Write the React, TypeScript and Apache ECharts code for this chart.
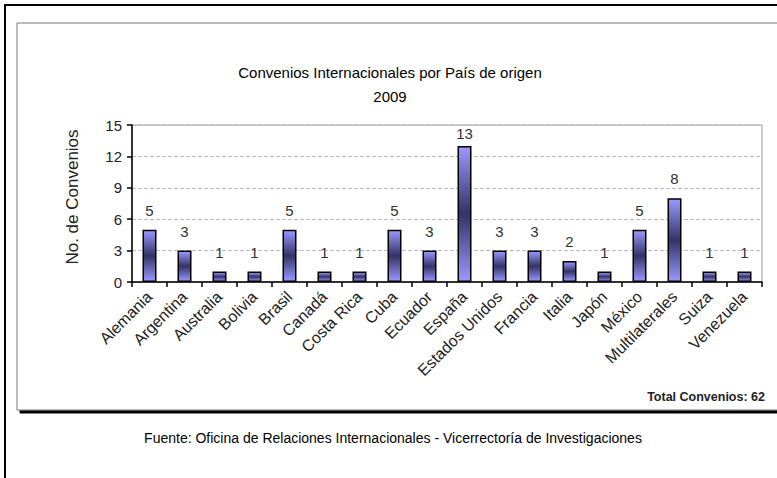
import React, { useEffect, useRef } from "react";
import * as echarts from "echarts";

const categories = [
  "Alemania", "Argentina", "Australia", "Bolivia", "Brasil", "Canadá", "Costa Rica", "Cuba", "Ecuador",
  "España", "Estados Unidos", "Francia", "Italia", "Japón", "México", "Multilaterales", "Suiza", "Venezuela",
];
const values = [5, 3, 1, 1, 5, 1, 1, 5, 3, 13, 3, 3, 2, 1, 5, 8, 1, 1];
const titleText = "Convenios Internacionales por País de origen";
const subtitleText = "2009";
const yAxisName = "No. de Convenios";
const totalText = "Total Convenios: 62";
const sourceText = "Fuente: Oficina de Relaciones Internacionales - Vicerrectoría de Investigaciones";

const SANS = "'Liberation Sans', Arial, sans-serif";
const NARROW = "'Liberation Sans Narrow', 'Liberation Sans', Arial, sans-serif";
const Y_MAX = 15;

export default function App() {
  const ref = useRef<HTMLDivElement>(null);
  useEffect(() => {
    document.body.style.margin = "0";
    const chart = echarts.init(ref.current!, undefined, { renderer: "svg" });
    chart.setOption({
      animation: false,
      backgroundColor: "#fff",
      graphic: [
        {
          type: "rect",
          z: -10,
          silent: true,
          shape: { x: 5, y: 5, width: 800, height: 500 },
          style: { fill: "#fff", stroke: "#000", lineWidth: 2 },
        },
        {
          type: "rect",
          z: -9,
          silent: true,
          shape: { x: 17, y: 23, width: 800, height: 387 },
          style: {
            fill: "#fff",
            stroke: "#777",
            lineWidth: 1,
            shadowColor: "#000",
            shadowBlur: 0,
            shadowOffsetX: 3,
            shadowOffsetY: 3,
          },
        },
        {
          type: "text",
          x: 390,
          y: 72,
          style: {
            text: titleText,
            fontFamily: SANS,
            fontSize: 15,
            textAlign: "center",
            textVerticalAlign: "middle",
            fill: "#000",
          },
        },
        {
          type: "text",
          x: 390,
          y: 96,
          style: {
            text: subtitleText,
            fontFamily: SANS,
            fontSize: 15,
            textAlign: "center",
            textVerticalAlign: "middle",
            fill: "#000",
          },
        },
        {
          type: "text",
          x: 72,
          y: 197,
          rotation: Math.PI / 2,
          style: {
            text: yAxisName,
            fontFamily: SANS,
            fontSize: 17,
            textAlign: "center",
            textVerticalAlign: "middle",
            fill: "#222",
          },
        },
        {
          type: "text",
          x: 765,
          y: 397,
          style: {
            text: totalText,
            fontFamily: NARROW,
            fontSize: 12.5,
            fontWeight: "bold",
            textAlign: "right",
            textVerticalAlign: "middle",
            fill: "#222",
          },
        },
        {
          type: "text",
          x: 393,
          y: 438,
          style: {
            text: sourceText,
            fontFamily: NARROW,
            fontSize: 14,
            textAlign: "center",
            textVerticalAlign: "middle",
            fill: "#000",
          },
        },
      ],
      grid: {
        left: 132,
        right: 15,
        top: 125,
        bottom: 196,
        show: true,
        borderColor: "#999",
        borderWidth: 1,
        backgroundColor: "transparent",
      },
      xAxis: {
        type: "category",
        data: categories,
        axisLine: { lineStyle: { color: "#000", width: 1.5 } },
        axisTick: { show: true, length: 5, lineStyle: { color: "#000", width: 1.5 } },
        axisLabel: {
          rotate: 45,
          interval: 0,
          fontFamily: SANS,
          fontSize: 16,
          color: "#222",
          margin: 12,
        },
      },
      yAxis: {
        type: "value",
        min: 0,
        max: Y_MAX,
        interval: 3,
        axisLine: { show: true, lineStyle: { color: "#000", width: 1.5 } },
        axisTick: { show: true, length: 5, lineStyle: { color: "#000", width: 1.5 } },
        axisLabel: { fontFamily: SANS, fontSize: 15, color: "#222", margin: 10 },
        splitLine: { show: true, lineStyle: { color: "#bbb", type: "dashed", width: 1 } },
      },
      series: [
        {
          type: "bar",
          data: values.map((v) => (v > Y_MAX - 3 ? { value: v, label: { distance: 5 } } : v)),
          barWidth: 14,
          itemStyle: {
            borderColor: "#000",
            borderWidth: 1.5,
            color: new echarts.graphic.LinearGradient(0, 0, 0, 1, [
              { offset: 0, color: "#9999ff" },
              { offset: 0.5, color: "#333366" },
              { offset: 1, color: "#9999ff" },
            ]),
          },
          label: {
            show: true,
            position: "top",
            distance: 12,
            fontFamily: SANS,
            fontSize: 15,
            color: "#333",
          },
        },
      ],
    });
    return () => chart.dispose();
  }, []);
  return <div ref={ref} style={{ width: 777, height: 478 }} />;
}
